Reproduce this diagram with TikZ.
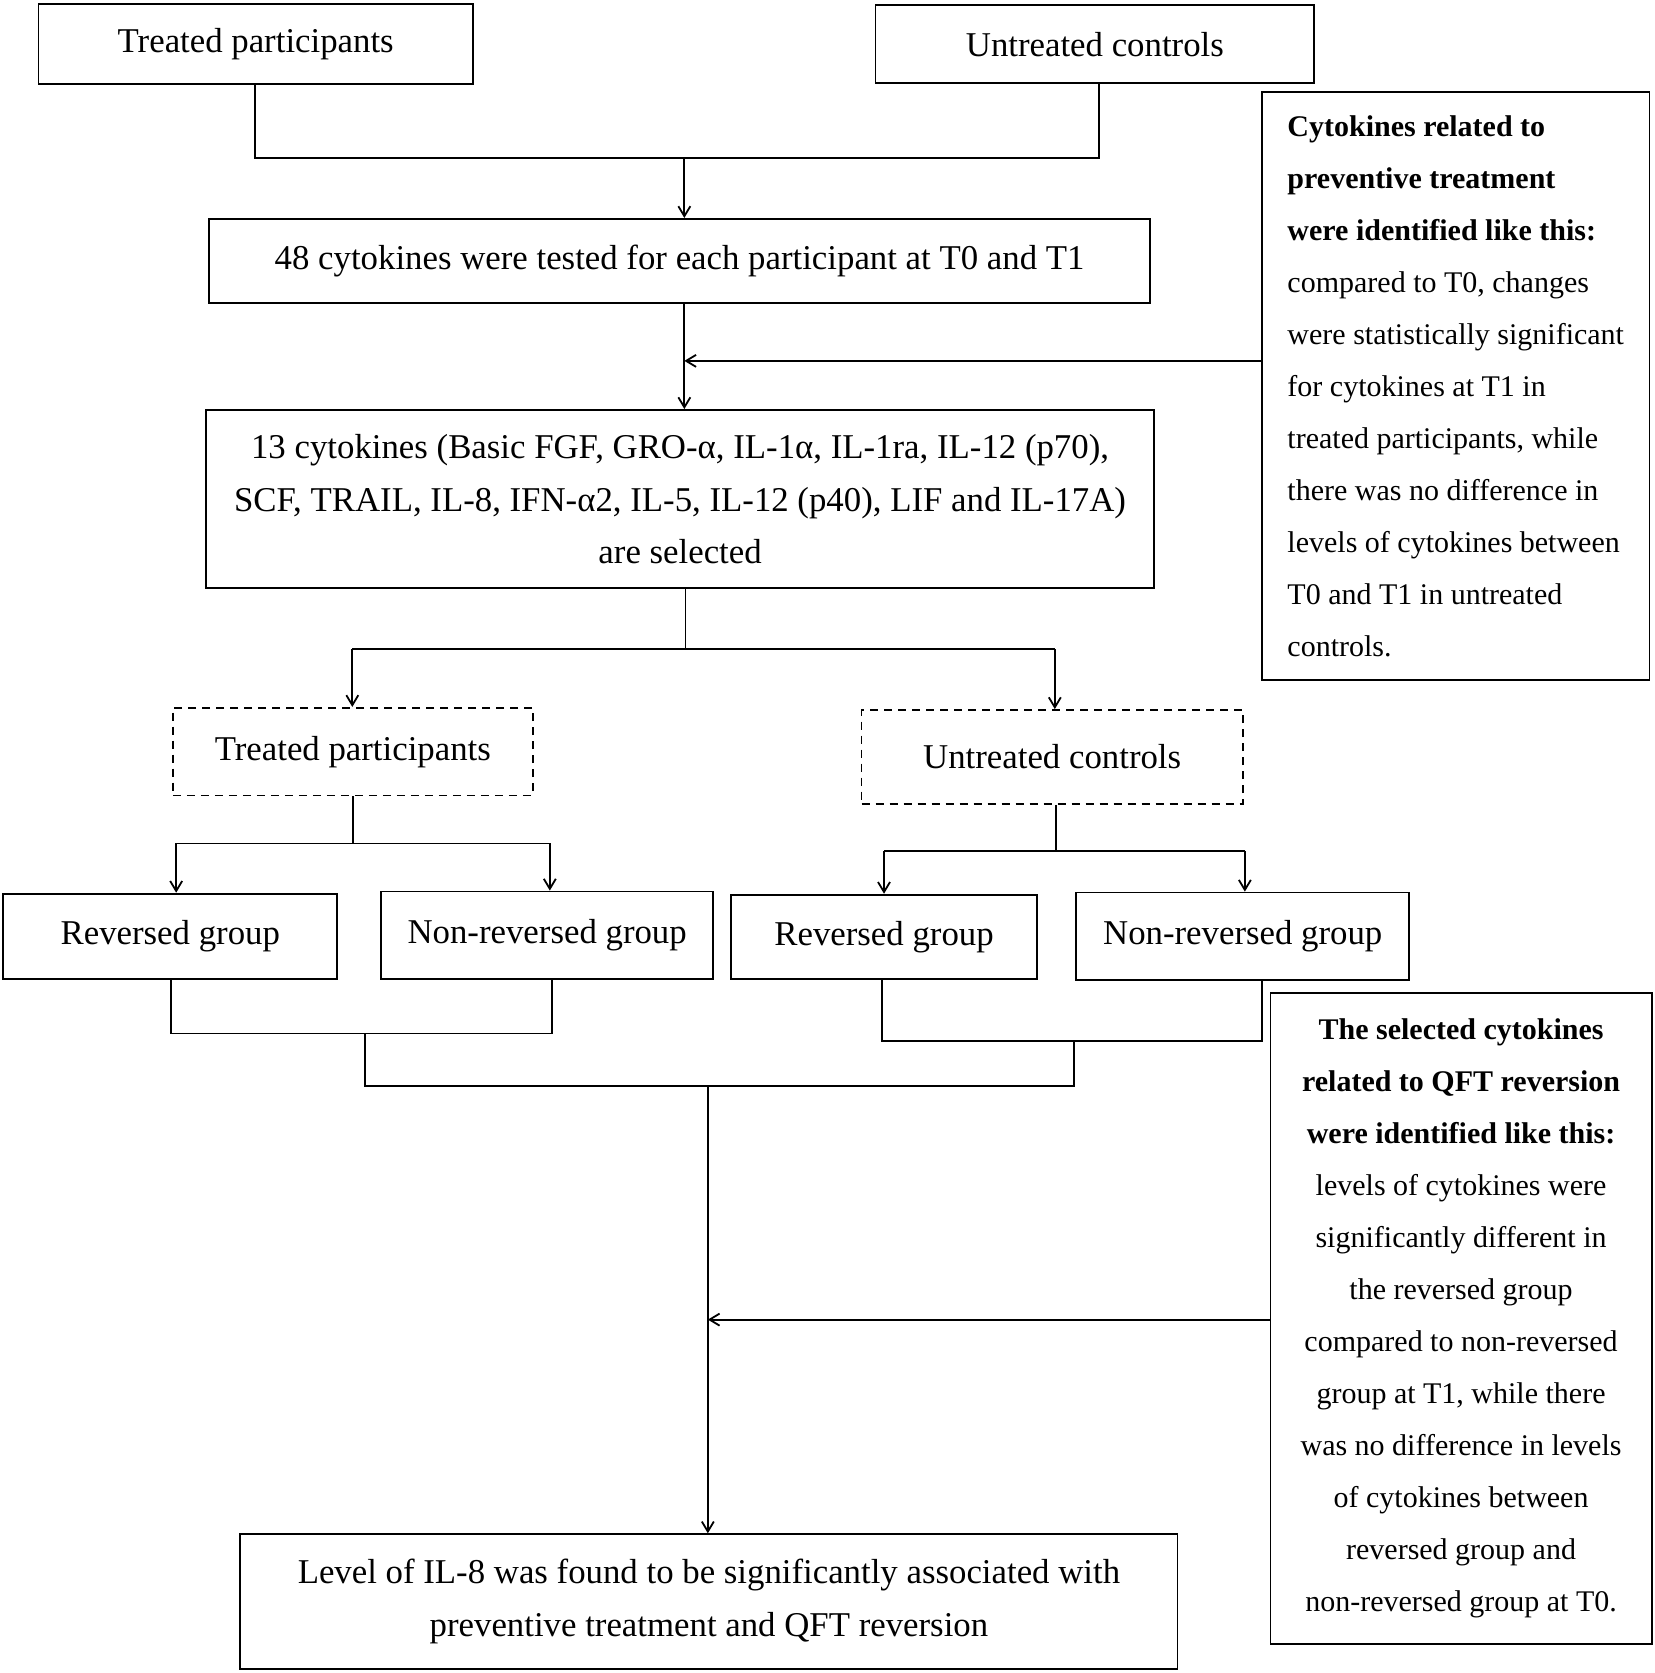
\documentclass[tikz,border=0pt]{standalone}
\usepackage{fontspec}
\setmainfont{Liberation Serif}
\usetikzlibrary{arrows.meta}
\begin{document}
\begin{tikzpicture}[x=0.53387pt,y=-0.53387pt,
  box/.style={draw,line width=0.9pt,inner sep=0pt,align=center,
    font=\fontsize{17.4}{26.2}\selectfont},
  dbox/.style={box,dash pattern=on 4pt off 3pt},
  side/.style={draw,line width=0.9pt,inner sep=0pt,
    font=\fontsize{15}{26}\selectfont},
  ln/.style={line width=0.9pt},
  arr/.style={line width=0.9pt,-{Straight Barb[length=5pt,width=6pt]}}]
\useasboundingbox (0,0) rectangle (1550,1567);
% nodes
\node[box,minimum width=217.3pt,minimum height=40pt] (tp) at (239.5,41.5) {Treated participants};
\node[box,minimum width=219.4pt,minimum height=39pt] (uc) at (1025.5,41.5) {Untreated controls};
\node[box,minimum width=470.3pt,minimum height=42.2pt] (b48) at (636.5,244.5) {48 cytokines were tested for each participant at T0 and T1};
\node[box,minimum width=474.1pt,minimum height=89.2pt] (b13) at (637,467.5) {13 cytokines (Basic FGF, GRO-α, IL-1α, IL-1ra, IL-12 (p70),\\SCF, TRAIL, IL-8, IFN-α2, IL-5, IL-12 (p40), LIF and IL-17A)\\are selected};
\node[side,align=left,minimum width=193.8pt,minimum height=294.2pt] (s1) at (1363.5,361.5) {\textbf{Cytokines related to}\\\textbf{preventive treatment}\\\textbf{were identified like this:}\\compared to T0, changes\\were statistically significant\\for cytokines at T1 in\\treated participants, while\\there was no difference in\\levels of cytokines between\\T0 and T1 in untreated\\controls.};
\node[dbox,minimum width=179.9pt,minimum height=43.8pt] (dt) at (330.5,704) {Treated participants};
\node[dbox,minimum width=190.6pt,minimum height=47pt] (du) at (985.5,709) {Untreated controls};
\node[box,minimum width=167.1pt,minimum height=42.7pt] (r1) at (159.5,877) {Reversed group};
\node[box,minimum width=166pt,minimum height=43.8pt] (n1) at (512.5,876) {Non-reversed group};
\node[box,minimum width=152.7pt,minimum height=42.2pt] (r2) at (828,877.5) {Reversed group};
\node[box,minimum width=166.6pt,minimum height=43.8pt] (n2) at (1164,877) {Non-reversed group};
\node[side,align=center,minimum width=190.6pt,minimum height=325.7pt] (s2) at (1368.5,1235) {\textbf{The selected cytokines}\\\textbf{related to QFT reversion}\\\textbf{were identified like this:}\\levels of cytokines were\\significantly different in\\the reversed group\\compared to non-reversed\\group at T1, while there\\was no difference in levels\\of cytokines between\\reversed group and\\non-reversed group at T0.};
\node[box,minimum width=468.7pt,minimum height=67.3pt] (fin) at (664,1500) {Level of IL-8 was found to be significantly associated with\\preventive treatment and QFT reversion};
% junction coordinates
\coordinate (j1) at (641,148);
\coordinate (j2) at (641,338);
\coordinate (j3) at (642,608);
\coordinate (a1) at (330,608);
\coordinate (a2) at (988,608);
\coordinate (j4) at (331,790);
\coordinate (a3) at (165,790);
\coordinate (a4) at (515,790);
\coordinate (j5) at (989,797);
\coordinate (a5) at (828,797);
\coordinate (a6) at (1166,797);
\coordinate (k1) at (160,968);
\coordinate (k2) at (517,968);
\coordinate (k3) at (342,968);
\coordinate (k4) at (342,1017);
\coordinate (k5) at (1006,1017);
\coordinate (k6) at (1006,975);
\coordinate (k7) at (826,975);
\coordinate (k8) at (1182,975);
\coordinate (m1) at (663,1017);
\coordinate (m2) at (663,1236);
% connectors
\draw[ln] (tp.south -| 239,0) |- (j1) -| (uc.south -| 1029,0);
\draw[arr] (j1) -- (j1 |- b48.north);
\draw[arr] (b48.south -| j2) -- (b13.north -| j2);
\draw[arr] (s1.west |- j2) -- (j2);
\draw[ln] (b13.south -| j3) -- (j3);
\draw[ln] (a1) -- (a2);
\draw[arr] (a1) -- (a1 |- dt.north);
\draw[arr] (a2) -- (a2 |- du.north);
\draw[ln] (dt.south -| j4) -- (j4);
\draw[ln] (a3) -- (a4);
\draw[arr] (a3) -- (a3 |- r1.north);
\draw[arr] (a4) -- (a4 |- n1.north);
\draw[ln] (du.south -| j5) -- (j5);
\draw[ln] (a5) -- (a6);
\draw[arr] (a5) -- (a5 |- r2.north);
\draw[arr] (a6) -- (a6 |- n2.north);
\draw[ln] (r1.south -| k1) -- (k1) -- (k2) -- (n1.south -| k2);
\draw[ln] (k3) -- (k4) -- (k5) -- (k6);
\draw[ln] (r2.south -| k7) -- (k7) -- (k8) -- (n2.south -| k8);
\draw[arr] (m1) -- (m1 |- fin.north);
\draw[arr] (s2.west |- m2) -- (m2);
\end{tikzpicture}
\end{document}
